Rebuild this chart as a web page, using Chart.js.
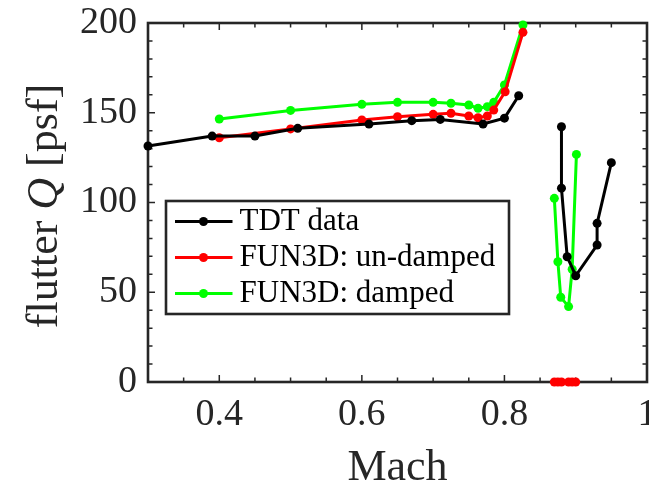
<!DOCTYPE html>
<html>
<head>
<meta charset="utf-8">
<script src="https://cdn.jsdelivr.net/npm/chart.js@4.4.1/dist/chart.umd.min.js"></script>
<style>
  html, body { margin: 0; padding: 0; background: #fff; overflow: hidden; }
  #wrap { width: 660px; height: 485px; }
</style>
</head>
<body>
<div id="wrap"><canvas id="chart"></canvas></div>
<script>
// Mach / flutter Q [psf]; null breaks the line
const tdtMach = [0.30, 0.39, 0.45, 0.51, 0.61, 0.67, 0.71, 0.77, 0.80, 0.82, null, 0.88, 0.88, 0.888, 0.90, 0.93, 0.93, 0.95];
const tdtQ    = [131.5, 137, 137, 141.3, 143.7, 145.6, 146.3, 143.7, 147, 159.5, null, 142.2, 108, 69.8, 59.2, 76.3, 88.4, 122.2];

const undampedMach = [0.40, 0.50, 0.60, 0.65, 0.70, 0.725, 0.75, 0.763, 0.776, 0.785, 0.801, 0.826, null, 0.87, 0.875, 0.88, 0.89, 0.895, 0.90];
const undampedQ    = [136.1, 141, 146, 147.8, 149.1, 149.7, 148.2, 147.2, 148.2, 151.5, 161.7, 194.8, null, 0, 0, 0, 0, 0, 0];

const dampedMach = [0.40, 0.50, 0.60, 0.65, 0.70, 0.725, 0.75, 0.763, 0.776, 0.785, 0.80, 0.826, null, 0.870, 0.875, 0.879, 0.890, 0.895, 0.901];
const dampedQ    = [146.5, 151.3, 154.7, 155.8, 155.8, 155.3, 154.3, 152.5, 153.4, 155.8, 165.5, 198.9, null, 102.3, 67, 47.2, 42, 62.8, 126.8];

const seriesNames = ['TDT data', 'FUN3D: un-damped', 'FUN3D: damped'];
const seriesColors = ['#000000', '#ff0000', '#00ff00'];

const xTicks = [0.4, 0.6, 0.8, 1];
const yTicks = [0, 50, 100, 150, 200];

const axisColor = '#262626';
const serif = "'Liberation Serif', 'DejaVu Serif', serif";

function toPoints(xs, ys) {
    return xs.map((x, i) => (x === null ? { x: NaN, y: null } : { x: x, y: ys[i] }));
}

function makeSet(i, xs, ys) {
    return {
        label: seriesNames[i],
        data: toPoints(xs, ys),
        showLine: true,
        spanGaps: false,
        borderColor: seriesColors[i],
        backgroundColor: seriesColors[i],
        borderWidth: 3,
        pointRadius: 4.5,
        pointHoverRadius: 4.5,
        pointBorderWidth: 0,
        clip: false
    };
}

// frame, inward ticks, titles and legend in MATLAB style
const matlabAxes = {
    id: 'matlabAxes',
    beforeDatasetsDraw(chart) {
        const { ctx, chartArea: a, scales } = chart;
        const xs = scales.x, ys = scales.y;
        ctx.save();
        ctx.strokeStyle = axisColor;
        ctx.lineWidth = 1.5;
        ctx.beginPath();
        for (let v = 0.3; v <= 1.0001; v += 0.05) {
            const px = xs.getPixelForValue(v);
            const major = xTicks.some(t => Math.abs(t - v) < 1e-6);
            const len = major ? 7 : 4.5;
            ctx.moveTo(px, a.bottom); ctx.lineTo(px, a.bottom - len);
            ctx.moveTo(px, a.top); ctx.lineTo(px, a.top + len);
        }
        for (let v = 0; v <= 200; v += 10) {
            const py = ys.getPixelForValue(v);
            const len = v % 50 === 0 ? 7 : 4.5;
            ctx.moveTo(a.left, py); ctx.lineTo(a.left + len, py);
            ctx.moveTo(a.right, py); ctx.lineTo(a.right - len, py);
        }
        ctx.stroke();
        ctx.lineWidth = 2.6;
        ctx.strokeRect(a.left, a.top, a.right - a.left, a.bottom - a.top);
        ctx.restore();
    },
    afterDraw(chart) {
        const { ctx, chartArea: a } = chart;
        ctx.save();

        // x title
        ctx.fillStyle = axisColor;
        ctx.font = '44px ' + serif;
        ctx.textAlign = 'center';
        ctx.textBaseline = 'alphabetic';
        ctx.fillText('Mach', (a.left + a.right) / 2, 480);

        // y title with italic Q
        const parts = [
            { t: 'flutter ', f: '44px ' + serif },
            { t: 'Q', f: 'italic 44px ' + serif },
            { t: ' [psf]', f: '44px ' + serif }
        ];
        let total = 0;
        parts.forEach(p => { ctx.font = p.f; p.w = ctx.measureText(p.t).width; total += p.w; });
        ctx.translate(57, 206);
        ctx.rotate(-Math.PI / 2);
        ctx.textAlign = 'left';
        let cx = -total / 2;
        parts.forEach(p => { ctx.font = p.f; ctx.fillText(p.t, cx, 0); cx += p.w; });
        ctx.setTransform(1, 0, 0, 1, 0, 0);

        // legend
        const bx = 166, by = 201, bw = 343, bh = 113;
        ctx.fillStyle = '#ffffff';
        ctx.fillRect(bx, by, bw, bh);
        ctx.strokeStyle = axisColor;
        ctx.lineWidth = 2.6;
        ctx.strokeRect(bx, by, bw, bh);
        ctx.font = '31px ' + serif;
        ctx.textAlign = 'left';
        ctx.textBaseline = 'alphabetic';
        chart.data.datasets.forEach((ds, i) => {
            const ry = 221.5 + i * 36;
            ctx.strokeStyle = ds.borderColor;
            ctx.lineWidth = 3;
            ctx.beginPath();
            ctx.moveTo(175, ry); ctx.lineTo(232.5, ry);
            ctx.stroke();
            ctx.fillStyle = ds.backgroundColor;
            ctx.beginPath();
            ctx.arc(203.5, ry, 4.5, 0, Math.PI * 2);
            ctx.fill();
            ctx.fillStyle = '#000000';
            ctx.fillText(ds.label, 239.5, ry + 8);
        });
        ctx.restore();
    }
};

new Chart(document.getElementById('chart'), {
    type: 'scatter',
    data: {
        datasets: [
            makeSet(0, tdtMach, tdtQ),
            makeSet(1, undampedMach, undampedQ),
            makeSet(2, dampedMach, dampedQ)
        ]
    },
    options: {
        responsive: true,
        maintainAspectRatio: false,
        animation: false,
        events: [],
        layout: { padding: { top: 23, left: 0, right: 13, bottom: 0 } },
        plugins: {
            legend: { display: false },
            tooltip: { enabled: false }
        },
        scales: {
            x: {
                type: 'linear',
                min: 0.3,
                max: 1.0,
                grid: { display: false, drawTicks: false },
                border: { display: false },
                afterBuildTicks: s => { s.ticks = xTicks.map(v => ({ value: v })); },
                afterFit: s => { s.height = 103; s.paddingLeft = 0; s.paddingRight = 0; },
                ticks: {
                    color: axisColor,
                    padding: 10,
                    maxRotation: 0,
                    font: { family: serif, size: 38 },
                    callback: v => String(v)
                }
            },
            y: {
                type: 'linear',
                min: 0,
                max: 200,
                grid: { display: false, drawTicks: false },
                border: { display: false },
                afterBuildTicks: s => { s.ticks = yTicks.map(v => ({ value: v })); },
                afterFit: s => { s.width = 148; s.paddingTop = 0; s.paddingBottom = 0; },
                ticks: {
                    color: axisColor,
                    padding: 11,
                    font: { family: serif, size: 38 },
                    callback: v => String(v)
                }
            }
        }
    },
    plugins: [matlabAxes]
});
</script>
</body>
</html>
